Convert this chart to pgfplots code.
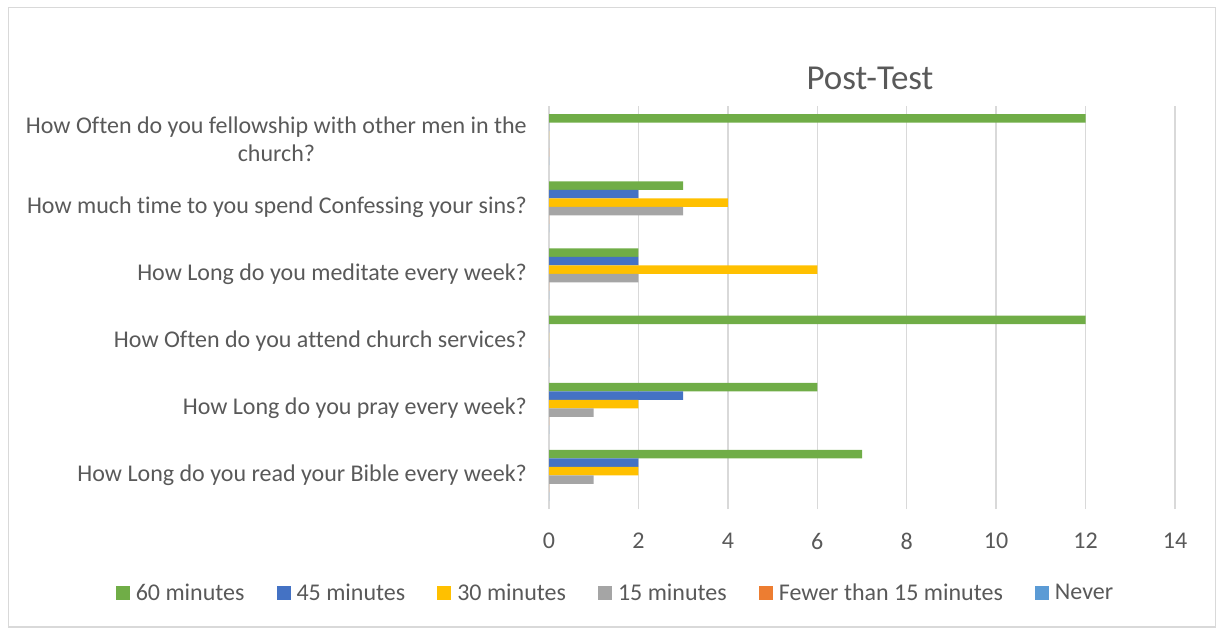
\documentclass[border=0pt]{standalone}
\usepackage{pgfplots}
\pgfplotsset{compat=1.18}
\usepackage{fontspec}
\setmainfont{Carlito}[Ligatures={NoCommon}]
\definecolor{c60}{HTML}{70AD47}
\definecolor{c45}{HTML}{4472C4}
\definecolor{c30}{HTML}{FFC000}
\definecolor{c15}{HTML}{A5A5A5}
\definecolor{cfew}{HTML}{ED7D31}
\definecolor{cnever}{HTML}{5B9BD5}
\definecolor{textgray}{HTML}{595959}
\definecolor{gridgray}{HTML}{D9D9D9}
\pgfplotsset{sq/.style={legend image code/.code={\fill[##1] (0pt,-7pt) rectangle (14pt,7pt); \path (17pt,0pt);}}}
\begin{document}
\begin{tikzpicture}[x=1pt,y=1pt]
\useasboundingbox (0,0) rectangle (1217,-630);
\draw[color=gridgray, line width=1.5pt] (8.5,-7.5) rectangle (1215.5,-627);
\node[text=textgray, font=\fontsize{35}{42}\selectfont] at (870,-78) {Post-Test};
\begin{axis}[
  at={(549pt,-509pt)}, anchor=south west,
  scale only axis, width=626pt, height=403pt,
  xmin=0, xmax=14, ymin=-0.5, ymax=5.5,
  xbar, bar width=8.5pt,
  xtick={0,2,...,14},
  ytick={0,1,2,3,4,5},
  yticklabels={How Long do you read your Bible every week?,
               How Long do you pray every week?,
               How Often do you attend church services?,
               How Long do you meditate every week?,
               How much time to you spend Confessing your sins?,
               {How Often do you fellowship with other men in the\\church?}},
  xmajorgrids, grid style={color=gridgray, line width=1.5pt},
  axis line style={draw=none},
  major tick length=0pt,
  tick label style={font=\fontsize{24}{28}\selectfont, text=textgray},
  /pgf/number format/assume math mode=true,
  yticklabel style={inner sep=0pt, xshift=-22pt, align=center},
  xticklabel style={inner sep=0pt, yshift=-24pt},
  legend columns=6,
  legend style={draw=none, fill=none, at={(axis description cs:0.107,-0.2084)}, anchor=center,
    font=\fontsize{24}{28}\selectfont, text=textgray,
    nodes={inner sep=3pt},
    /tikz/every even column/.append style={column sep=29pt}},
  legend cell align=left,
]
\addplot[fill=c60, draw=none, bar shift=21.25pt, sq] coordinates {(7,0) (6,1) (12,2) (2,3) (3,4) (12,5)};
\addplot[fill=c45, draw=none, bar shift=12.75pt, sq] coordinates {(2,0) (3,1) (0,2) (2,3) (2,4) (0,5)};
\addplot[fill=c30, draw=none, bar shift=4.25pt, sq] coordinates {(2,0) (2,1) (0,2) (6,3) (4,4) (0,5)};
\addplot[fill=c15, draw=none, bar shift=-4.25pt, sq] coordinates {(1,0) (1,1) (0,2) (2,3) (3,4) (0,5)};
\addplot[fill=cfew, draw=none, bar shift=-12.75pt, sq] coordinates {(0,0) (0,1) (0,2) (0,3) (0,4) (0,5)};
\addplot[fill=cnever, draw=none, bar shift=-21.25pt, sq] coordinates {(0,0) (0,1) (0,2) (0,3) (0,4) (0,5)};
\legend{60 minutes, 45 minutes, 30 minutes, 15 minutes, Fewer than 15 minutes, Never}
\end{axis}
\end{tikzpicture}
\end{document}
